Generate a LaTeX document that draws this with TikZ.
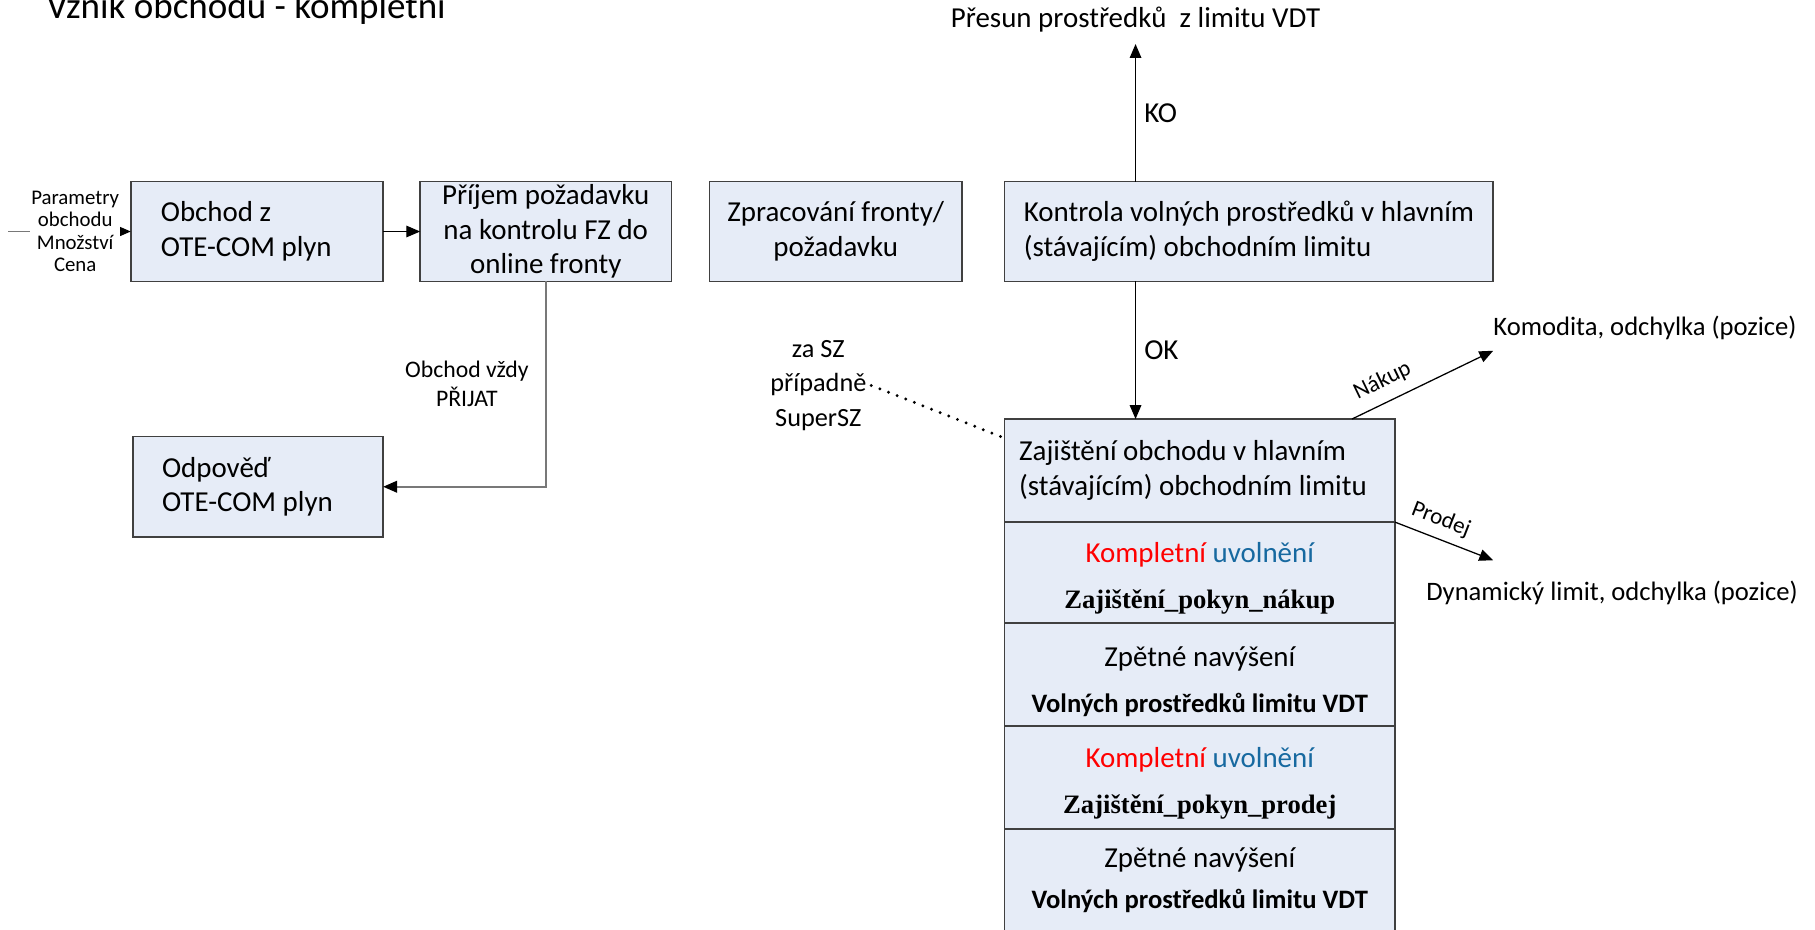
\documentclass[tikz,border=0pt]{standalone}
\usepackage{fontspec}
\setmainfont{Carlito}
\newfontfamily\tnr{Liberation Serif}
\usetikzlibrary{arrows.meta,positioning}
\definecolor{boxfill}{RGB}{230,236,247}
\definecolor{boxline}{RGB}{64,64,64}
\definecolor{linegray}{RGB}{120,120,120}
\definecolor{uvblue}{RGB}{23,105,160}
\newcommand{\fs}[2]{\fontsize{#1}{#2}\selectfont}
\tikzset{
  box/.style={draw=boxline, fill=boxfill, line width=1.3pt, inner sep=0pt, outer sep=0pt, align=center, font=\fs{25}{30}},
  tip/.style={line width=1.1pt, -{Triangle[length=12pt,width=10pt,color=black]}},
  graytip/.style={tip, draw=linegray, line width=1.6pt},
  lbl/.style={font=\fs{25}{30}, inner sep=2pt},
  small/.style={font=\fs{20}{24}, inner sep=2pt}
}
\begin{document}
\begin{tikzpicture}[x=1pt,y=-1pt]
            \useasboundingbox (0,0) rectangle (1568,803);
            \clip (0,0) rectangle (1568,803);
            \node[anchor=base west, font=\fs{32}{38}, inner sep=0pt] (title) at (40,16) {Vznik obchodu - kompletní};
            \node[box, minimum width=218pt, minimum height=86pt, text width=166pt, align=flush left] (obchod) at (222,200) {Obchod z\\OTE-COM plyn};
            \node[box, minimum width=217pt, minimum height=86pt] (prijem) at (471.5,200) {Příjem požadavku\\na kontrolu FZ do\\online fronty};
            \node[box, minimum width=218pt, minimum height=86pt] (zpracovani) at (722,200) {Zpracování fronty/\\požadavku};
            \node[box, minimum width=422pt, minimum height=86pt, align=flush left] (kontrola) at (1079,200) {Kontrola volných prostředků v hlavním\\(stávajícím) obchodním limitu};
            \node[box, minimum width=216pt, minimum height=87pt, text width=166pt, align=flush left] (odpoved) at (223,420.5) {Odpověď\\OTE-COM plyn};
            \node[box, minimum width=337pt, minimum height=89pt, text width=312pt, align=flush left] (zajisteni) at (1036.5,406.5) {Zajištění obchodu v hlavním\\(stávajícím) obchodním limitu};
            \node[box, minimum width=337pt, minimum height=87pt, below=0pt of zajisteni] (uvolneni1) {\rule{0pt}{28pt}{\color{red}Kompletní} {\color{uvblue}uvolnění}\\[10pt]{\tnr\bfseries\fs{23}{30}Zajištění\_pokyn\_nákup}};
            \node[box, minimum width=337pt, minimum height=89pt, below=0pt of uvolneni1] (navyseni1) {\rule{0pt}{30pt}Zpětné navýšení\\[10pt]{\bfseries\fs{23}{30}Volných prostředků limitu VDT}};
            \node[box, minimum width=337pt, minimum height=89pt, below=0pt of navyseni1] (uvolneni2) {\rule{0pt}{28pt}{\color{red}Kompletní} {\color{uvblue}uvolnění}\\[10pt]{\tnr\bfseries\fs{23}{30}Zajištění\_pokyn\_prodej}};
            \node[box, minimum width=337pt, minimum height=89pt, below=0pt of uvolneni2] (navyseni2) {Zpětné navýšení\\[6pt]{\bfseries\fs{23}{30}Volných prostředků limitu VDT}};
            \node[lbl] (presun) at (981,17) {Přesun prostředků\ \ z limitu VDT};
            \node[lbl, font=\fs{23}{28}, anchor=west] (komodita) at (1288,283) {Komodita, odchylka (pozice)};
            \node[lbl, font=\fs{23}{28}, anchor=west] (dynamicky) at (1230,512) {Dynamický limit, odchylka (pozice)};
            \node[lbl, font=\fs{22.7}{29.5}, align=center, inner sep=4pt] (zasz) at (707,333) {za SZ\\případně\\SuperSZ};
            \coordinate (vstup) at (7,200);
            \coordinate (nakupend) at (1290,303);
            \coordinate (prodejend) at (1290,484);
            \draw[graytip] (vstup) -- (obchod.west) node[pos=0.547, fill=white, font=\fs{18}{19.5}, inner sep=1pt, align=center] (param) {Parametry\\obchodu\\Množství\\Cena};
            \draw[tip] (obchod.east) -- (prijem.west);
            \draw[graytip] (prijem.south) |- (odpoved.east) node[pos=0.25, left=12pt, font=\fs{20.5}{25}, inner sep=2pt, align=center] (prijat) {Obchod vždy\\PŘIJAT};
            \draw[tip] (kontrola.north -| presun.south) -- ([yshift=-8pt]presun.south) node[midway, right=5pt, lbl] (ko) {KO};
            \draw[tip] (kontrola.south -| presun.south) -- (zajisteni.north -| presun.south) node[midway, right=5pt, lbl] (ok) {OK};
            \draw[tip] ([xshift=-37pt]zajisteni.north east) -- (nakupend) node[pos=0.28, sloped, above=7pt, small] (nakup) {Nákup};
            \draw[tip] (zajisteni.south east) -- (prodejend) node[pos=0.4, sloped, above=5pt, small] (prodej) {Prodej};
            \draw[line width=2.8pt, line cap=round, dash pattern=on 0pt off 8pt] (zasz.east) -- ([yshift=28pt]zajisteni.west);
          \end{tikzpicture}
\end{document}
